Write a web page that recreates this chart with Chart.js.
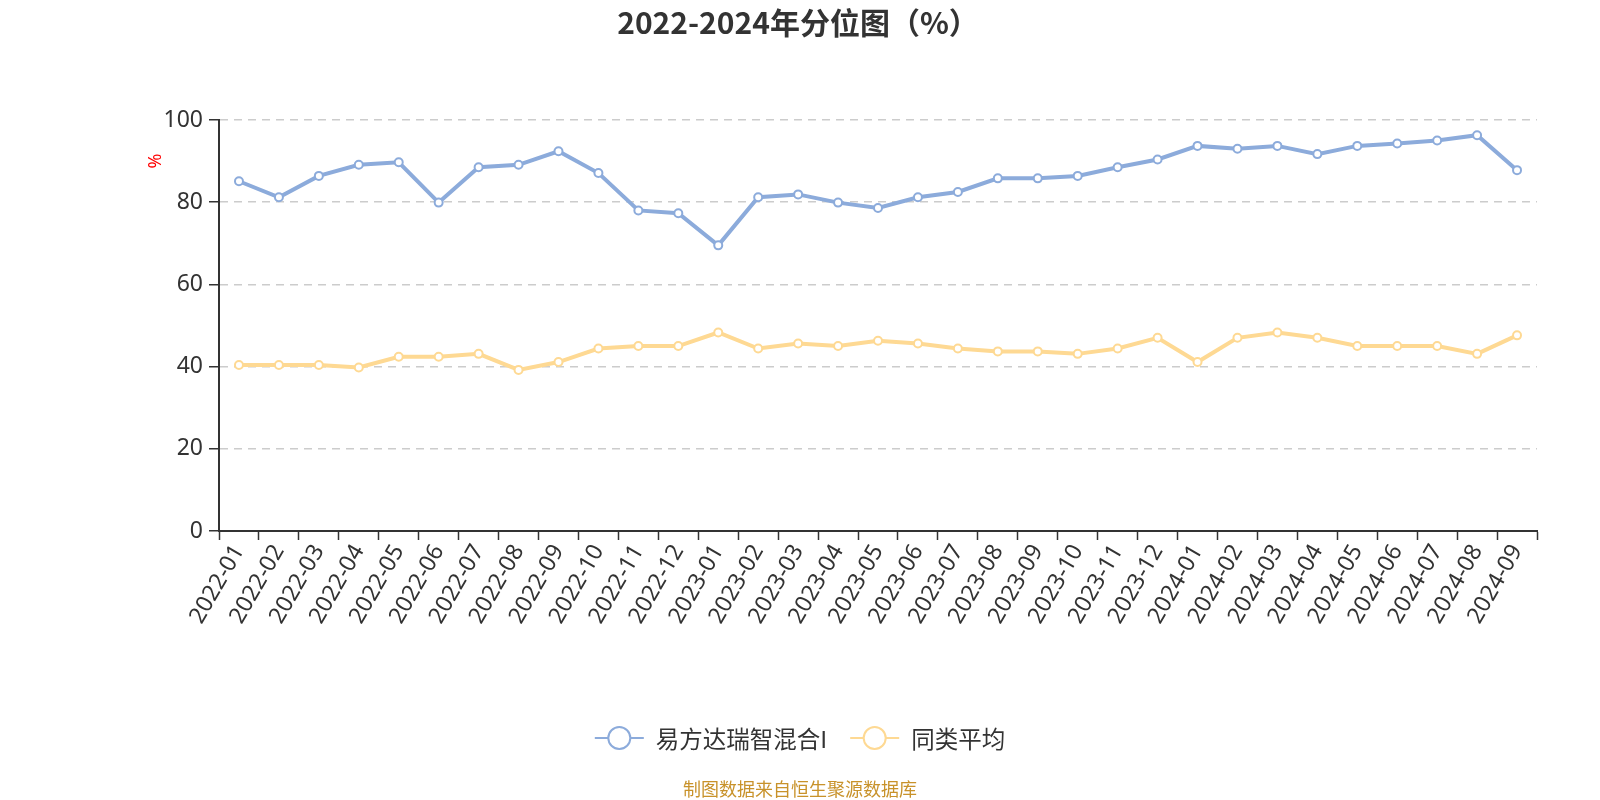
<!DOCTYPE html>
<html>
<head>
<meta charset="utf-8">
<script src="https://cdn.jsdelivr.net/npm/chart.js@4/dist/chart.umd.min.js"></script>
<style>
html,body{margin:0;padding:0;background:#fff;}
#wrap{width:1600px;height:800px;position:relative;}
</style>
</head>
<body>
<div id="wrap"><canvas id="c" width="1600" height="800"></canvas></div>
<script>
const categories = ["2022-01","2022-02","2022-03","2022-04","2022-05","2022-06","2022-07","2022-08","2022-09","2022-10","2022-11","2022-12",
"2023-01","2023-02","2023-03","2023-04","2023-05","2023-06","2023-07","2023-08","2023-09","2023-10","2023-11","2023-12",
"2024-01","2024-02","2024-03","2024-04","2024-05","2024-06","2024-07","2024-08","2024-09"];
const fundName = "易方达瑞智混合I";
const avgName = "同类平均";
const fundValues = [85.1,81.2,86.4,89.1,89.7,79.9,88.5,89.1,92.4,87.1,78.0,77.3,
69.5,81.2,81.9,79.9,78.6,81.2,82.5,85.8,85.8,86.4,88.5,90.4,
93.7,93.0,93.7,91.7,93.7,94.3,95.0,96.3,87.8];
const avgValues = [40.4,40.4,40.4,39.8,42.4,42.4,43.1,39.2,41.1,44.4,45.0,45.0,
48.3,44.4,45.6,45.0,46.3,45.6,44.4,43.7,43.7,43.1,44.4,47.0,
41.1,47.0,48.3,47.0,45.0,45.0,45.0,43.1,47.6];
const yTicks = [0,20,40,60,80,100];
const titleText = "2022-2024年分位图（%）";
const yUnit = "%";
const sourceText = "制图数据来自恒生聚源数据库";

const BLUE = "#8cabdb";
const YELLOW = "#fed993";
const TEXT = "#333333";
const FONT = "'Noto Sans', 'Noto Sans CJK SC', sans-serif";
const CJK = "'Noto Sans CJK SC', 'Noto Sans', sans-serif";

const extras = {
  id: 'extras',
  afterDraw(chart) {
    const ctx = chart.ctx;
    ctx.save();
    ctx.fillStyle = "#ff0000";
    ctx.font = "18px " + FONT;
    ctx.translate(156, 161);
    ctx.rotate(-Math.PI / 2);
    ctx.textAlign = "center";
    ctx.textBaseline = "middle";
    ctx.fillText(yUnit, 0, 0);
    ctx.restore();

    ctx.save();
    ctx.font = "23.5px " + CJK;
    ctx.textBaseline = "middle";
    const items = chart.data.datasets.map(d => ({label: d.label, color: d.borderColor}));
    const iconW = 49, gapText = 12, gapItem = 23;
    let total = 0;
    items.forEach((it, i) => {
      it.tw = ctx.measureText(it.label).width;
      total += iconW + gapText + it.tw + (i < items.length - 1 ? gapItem : 0);
    });
    let x = 800 - total / 2;
    const y = 738;
    items.forEach(it => {
      ctx.strokeStyle = it.color;
      ctx.lineWidth = 2;
      ctx.beginPath();
      ctx.moveTo(x, y); ctx.lineTo(x + iconW, y);
      ctx.stroke();
      ctx.beginPath();
      ctx.arc(x + iconW / 2, y, 11, 0, Math.PI * 2);
      ctx.fillStyle = "#fff";
      ctx.fill();
      ctx.stroke();
      ctx.fillStyle = TEXT;
      ctx.textAlign = "left";
      ctx.fillText(it.label, x + iconW + gapText, y + 1);
      x += iconW + gapText + it.tw + gapItem;
    });
    ctx.font = "18px " + CJK;
    ctx.fillStyle = "#c8922a";
    ctx.textAlign = "center";
    ctx.fillText(sourceText, 800, 789);
    ctx.restore();
  }
};

new Chart(document.getElementById('c'), {
  type: 'line',
  data: {
    labels: categories,
    datasets: [
      {label: fundName, data: fundValues, borderColor: BLUE, backgroundColor: "#fff",
       borderWidth: 4, pointRadius: 4, pointBorderWidth: 2, pointBackgroundColor: "#fff",
       pointBorderColor: BLUE, tension: 0},
      {label: avgName, data: avgValues, borderColor: YELLOW, backgroundColor: "#fff",
       borderWidth: 4, pointRadius: 4, pointBorderWidth: 2, pointBackgroundColor: "#fff",
       pointBorderColor: YELLOW, tension: 0}
    ]
  },
  options: {
    responsive: false,
    animation: false,
    events: [],
    layout: {padding: {left: 59, right: 63, top: 0, bottom: 0}},
    plugins: {
      legend: {display: false},
      tooltip: {enabled: false},
      title: {display: true, text: titleText, color: TEXT,
        font: {size: 30, weight: 'bold', family: CJK}, padding: {top: 5, bottom: 79}}
    },
    scales: {
      x: {
        type: 'category',
        offset: true,
        grid: {offset: true, drawOnChartArea: false, tickLength: 9, tickColor: TEXT, tickWidth: 1.5},
        border: {color: TEXT, width: 2},
        ticks: {color: TEXT, font: {size: 23, family: FONT}, maxRotation: 60, minRotation: 60, autoSkip: false, padding: 0},
        afterFit(s) { s.height = 269; }
      },
      y: {
        min: 0, max: 100,
        afterBuildTicks(s) { s.ticks = yTicks.map(v => ({value: v})); },
        grid: {color: "#cccccc", lineWidth: 1.5, tickLength: 10, tickColor: TEXT, tickWidth: 1.5},
        border: {color: TEXT, width: 2, dash: [8, 6]},
        ticks: {color: TEXT, font: {size: 23, family: FONT}, padding: 6},
        afterFit(s) { s.width = 160; }
      }
    }
  },
  plugins: [extras]
});
</script>
</body>
</html>
